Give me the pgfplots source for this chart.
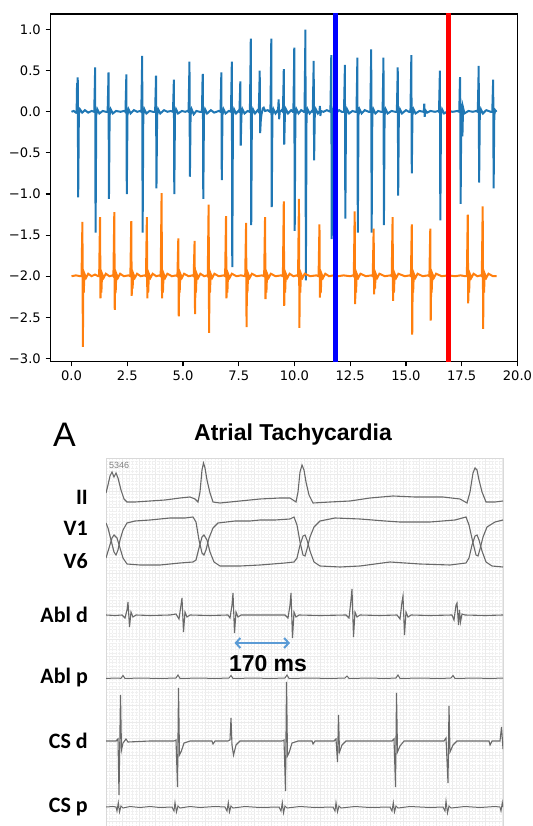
\documentclass[border=0pt]{standalone}
\usepackage{fontspec}
\usepackage{pgfplots}
\pgfplotsset{compat=1.18}
\usetikzlibrary{arrows.meta}
\setmainfont{Liberation Sans}
\newfontfamily\dejavu{DejaVu Sans}
\newfontfamily\carlito{Carlito}
\definecolor{tabblue}{HTML}{1F77B4}
\definecolor{taborange}{HTML}{FF7F0E}
\definecolor{ecg}{RGB}{105,105,105}
\definecolor{arrowblue}{RGB}{91,155,213}
\begin{document}
\begin{tikzpicture}
\path[use as bounding box] (0,0) rectangle (532pt,826pt);
% ---------------- top chart ----------------
\begin{axis}[at={(50.2pt,464.3pt)}, anchor=south west, scale only axis,
  width=467.5pt, height=347.7pt,
  xmin=-0.955, xmax=20.01, ymin=-3.04, ymax=1.19,
  xtick={0,2.5,5,7.5,10,12.5,15,17.5,20},
  xticklabels={0.0,2.5,5.0,7.5,10.0,12.5,15.0,17.5,20.0},
  ytick={-3,-2.5,-2,-1.5,-1,-0.5,0,0.5,1},
  yticklabels={−3.0,−2.5,−2.0,−1.5,−1.0,−0.5,0.0,0.5,1.0},
  tick align=outside, xtick pos=bottom, ytick pos=left,
  major tick length=4.6pt,
  every tick/.style={black, line width=1.05pt},
  axis line style={black, line width=1.05pt},
  tick label style={font=\dejavu\fontsize{13.1}{15}\selectfont, inner sep=0pt},
  xticklabel shift=4.6pt, yticklabel shift=4.6pt,
  clip=true]
\addplot[tabblue, line width=2pt] coordinates {
(0,0) (0.1,0.01) (0.2,-0.01)
(0.23,0) (0.25,0.35) (0.27,0.30) (0.28,0.42) (0.30,-1.04) (0.33,-0.03) (0.38,0.03) (0.48,-0.01) (0.6,0.02) (0.75,-0.01) (0.9,0.01)
(1.02,0) (1.05,0.38) (1.06,0.54) (1.08,-1.47) (1.11,-0.04) (1.16,0.03) (1.25,-0.02) (1.4,0.01) (1.55,0)
(1.62,0) (1.65,0.34) (1.66,0.48) (1.68,-1.06) (1.71,-0.04) (1.76,0.03) (1.85,-0.02) (2.0,0.01) (2.2,0) (2.35,0.01)
(2.42,0) (2.45,0.32) (2.46,0.455) (2.48,-1.0) (2.51,-0.04) (2.56,0.03) (2.65,-0.02) (2.8,0.02) (2.95,0) (3.08,0.01)
(3.13,0) (3.16,0.48) (3.17,0.68) (3.19,-1.47) (3.22,-0.04) (3.27,0.03) (3.36,-0.02) (3.5,0.01) (3.65,0)
(3.75,0) (3.78,0.31) (3.79,0.44) (3.81,-0.93) (3.84,-0.04) (3.89,0.03) (3.98,-0.02) (4.15,0.02) (4.3,0) (4.45,0.01)
(4.55,0) (4.58,0.27) (4.59,0.39) (4.61,-1.0) (4.64,-0.04) (4.69,0.03) (4.78,-0.02) (4.95,0.01) (5.1,0) (5.2,0.01)
(5.25,0) (5.28,0.43) (5.29,0.61) (5.31,-0.79) (5.34,-0.04) (5.39,0.03) (5.48,-0.03) (5.6,0.01) (5.75,0)
(5.85,0) (5.88,0.44) (5.89,0.46) (5.91,-1.06) (5.94,-0.04) (5.99,0.03) (6.08,-0.02) (6.25,0.02) (6.4,-0.01) (6.6,0.01)
(6.68,0) (6.71,0.34) (6.72,0.48) (6.74,-0.83) (6.77,-0.04) (6.82,0.03) (6.91,-0.02) (7.05,0.01)
(7.15,0) (7.18,0.43) (7.19,0.61) (7.21,-1.89) (7.24,-0.04) (7.29,0.03) (7.38,-0.02) (7.48,0.01)
(7.53,0) (7.56,0.26) (7.57,0.37) (7.59,-0.41) (7.62,-0.04) (7.67,0.03) (7.76,-0.02) (7.9,0.01) (7.98,0)
(8.0,0) (8.03,0.62) (8.04,0.89) (8.06,-1.38) (8.09,-0.04) (8.14,0.03) (8.23,-0.02) (8.35,0.02)
(8.40,0) (8.43,0.35) (8.44,0.50) (8.46,-0.26) (8.49,-0.1) (8.52,-0.03) (8.58,0.04) (8.62,0.05) (8.68,0.01) (8.8,0.02) (8.9,0)
(8.92,0) (8.95,0.62) (8.96,0.89) (8.98,-1.16) (9.01,-0.04) (9.06,0.03) (9.15,-0.02) (9.22,0.01)
(9.26,0) (9.28,0.1) (9.29,0.15) (9.31,-0.09) (9.34,0.0) (9.42,0.02)
(9.48,0) (9.51,0.36) (9.52,0.52) (9.54,-0.40) (9.57,-0.04) (9.62,0.03) (9.71,-0.02) (9.85,0.02) (9.93,0)
(9.95,0) (9.98,0.55) (9.99,0.78) (10.01,-1.45) (10.04,-0.04) (10.09,0.03) (10.18,-0.02) (10.3,0.02) (10.42,0)
(10.45,0) (10.48,0.7) (10.49,1.0) (10.51,-2.05) (10.54,-0.04) (10.59,0.03) (10.68,-0.02) (10.78,0.01)
(10.82,0) (10.85,0.43) (10.86,0.62) (10.88,-0.59) (10.91,-0.04) (10.96,0.03) (11.05,-0.02) (11.1,0)
(11.12,0.0) (11.14,0.07) (11.16,-0.05) (11.19,0.01) (11.3,0) (11.45,0.02)
(11.61,0) (11.64,0.48) (11.65,0.69) (11.67,-1.55) (11.70,-0.04) (11.75,0.03) (11.84,-0.02) (12.0,0.02) (12.12,0)
(12.22,0) (12.25,0.4) (12.26,0.57) (12.28,-1.30) (12.31,-0.04) (12.36,0.03) (12.45,-0.02) (12.6,0.01) (12.72,0)
(12.78,0) (12.81,0.46) (12.82,0.66) (12.84,-1.47) (12.87,-0.04) (12.92,0.03) (13.01,-0.02) (13.15,0.02) (13.33,0)
(13.40,0) (13.43,0.53) (13.44,0.76) (13.46,-1.47) (13.49,-0.04) (13.54,0.03) (13.63,-0.02) (13.75,0.01) (13.88,0)
(13.95,0) (13.98,0.46) (13.99,0.66) (14.01,-1.38) (14.04,-0.04) (14.09,0.03) (14.18,-0.02) (14.35,0.01) (14.52,0)
(14.59,0) (14.62,0.38) (14.63,0.54) (14.65,-1.02) (14.68,-0.04) (14.73,0.03) (14.82,-0.02) (15.0,0.02) (15.13,0)
(15.20,0) (15.23,0.48) (15.24,0.69) (15.26,-0.75) (15.29,-0.04) (15.34,0.03) (15.43,-0.02) (15.6,0.01) (15.78,0)
(15.80,0) (15.82,0.1) (15.84,-0.06) (15.87,0.02) (15.95,-0.01) (16.1,0.01) (16.3,0) (16.45,0.01)
(16.48,0) (16.51,0.35) (16.52,0.50) (16.54,-1.32) (16.57,-0.04) (16.62,0.03) (16.71,-0.02) (16.9,0.01) (17.1,0) (17.3,0.01)
(17.39,0) (17.42,0.4) (17.43,0.42) (17.45,-1.12) (17.48,-0.04) (17.51,0.1) (17.53,-0.3) (17.56,0.05) (17.62,-0.02) (17.8,0.01) (18.0,0) (18.15,0.01)
(18.22,0) (18.25,0.39) (18.26,0.56) (18.28,-0.86) (18.31,-0.04) (18.36,0.03) (18.45,-0.02) (18.6,0.02) (18.8,0)
(18.87,0) (18.90,0.3) (18.91,0.39) (18.93,-0.93) (18.96,-0.04) (19.0,0.02) (19.06,0)
};
\addplot[taborange, line width=2pt] coordinates {
(0,-2) (0.2,-1.99) (0.4,-2.0)
(0.45,-2) (0.49,-1.34) (0.51,-2.86) (0.53,-2.05) (0.55,-2.2) (0.58,-1.97) (0.65,-2.02) (0.75,-1.97) (0.9,-2.0) (1.05,-1.98) (1.2,-2.0)
(1.24,-2) (1.28,-1.28) (1.30,-2.27) (1.32,-2.05) (1.34,-2.2) (1.37,-1.97) (1.44,-2.02) (1.54,-1.97) (1.7,-2.0) (1.85,-1.99)
(1.88,-2) (1.92,-1.22) (1.94,-2.41) (1.96,-2.05) (1.98,-2.2) (2.01,-1.97) (2.08,-2.02) (2.18,-1.97) (2.35,-2.0) (2.55,-1.99)
(2.64,-2) (2.68,-1.33) (2.70,-2.24) (2.72,-2.05) (2.74,-2.15) (2.77,-1.97) (2.84,-2.02) (2.94,-1.97) (3.1,-2.0) (3.28,-1.99)
(3.34,-2) (3.38,-1.28) (3.40,-2.27) (3.42,-2.05) (3.44,-2.2) (3.47,-1.97) (3.54,-2.02) (3.64,-1.97) (3.8,-2.0) (3.95,-1.99)
(4.00,-2) (4.04,-0.99) (4.06,-2.27) (4.08,-2.05) (4.10,-2.2) (4.13,-1.97) (4.2,-2.02) (4.3,-1.97) (4.5,-2.0) (4.7,-1.99)
(4.75,-2) (4.79,-1.54) (4.81,-2.49) (4.83,-2.05) (4.85,-2.2) (4.88,-1.97) (4.95,-2.02) (5.05,-1.97) (5.25,-2.0) (5.42,-1.99)
(5.48,-2) (5.52,-1.57) (5.54,-2.46) (5.56,-2.05) (5.58,-2.2) (5.61,-1.97) (5.68,-2.02) (5.78,-1.97) (5.95,-2.0) (6.08,-1.99)
(6.11,-2) (6.15,-1.13) (6.17,-2.69) (6.19,-2.05) (6.21,-2.2) (6.24,-1.97) (6.31,-2.02) (6.41,-1.97) (6.6,-2.0) (6.83,-1.99)
(6.89,-2) (6.93,-1.27) (6.95,-2.27) (6.97,-2.05) (6.99,-2.2) (7.02,-1.97) (7.09,-2.02) (7.19,-1.97) (7.4,-2.0) (7.6,-1.99)
(7.79,-2) (7.83,-1.35) (7.85,-2.62) (7.87,-2.05) (7.89,-2.2) (7.92,-1.97) (7.99,-2.02) (8.09,-1.97) (8.3,-2.0) (8.55,-1.99)
(8.64,-2) (8.68,-1.28) (8.70,-2.28) (8.72,-2.05) (8.74,-2.2) (8.77,-1.97) (8.84,-2.02) (8.94,-1.97) (9.15,-2.0) (9.4,-1.99)
(9.48,-2) (9.52,-1.09) (9.54,-2.36) (9.56,-2.05) (9.58,-2.2) (9.61,-1.97) (9.68,-2.02) (9.78,-1.97) (9.95,-2.0) (10.1,-1.99)
(10.16,-2) (10.20,-1.06) (10.22,-2.63) (10.24,-2.05) (10.26,-2.2) (10.29,-1.97) (10.36,-2.02) (10.46,-1.97) (10.7,-2.0) (10.98,-1.99)
(11.08,-2) (11.12,-1.37) (11.14,-2.26) (11.16,-2.05) (11.18,-2.2) (11.21,-1.97) (11.28,-2.02) (11.38,-1.97) (11.55,-2.0) (11.75,-1.99) (11.95,-2.0) (12.2,-1.99) (12.5,-2.0) (12.62,-1.99)
(12.66,-2) (12.70,-1.21) (12.72,-2.34) (12.74,-2.05) (12.76,-2.2) (12.79,-1.97) (12.86,-2.02) (12.96,-1.97) (13.2,-2.0) (13.45,-1.99)
(13.51,-2) (13.55,-1.42) (13.57,-2.22) (13.59,-2.05) (13.61,-2.15) (13.64,-1.97) (13.71,-2.02) (13.81,-1.97) (14.05,-2.0) (14.3,-1.99)
(14.36,-2) (14.40,-1.28) (14.42,-2.30) (14.44,-2.05) (14.46,-2.2) (14.49,-1.97) (14.56,-2.02) (14.66,-1.97) (14.95,-2.0) (15.16,-1.99)
(15.22,-2) (15.26,-1.37) (15.28,-2.71) (15.30,-2.05) (15.32,-2.2) (15.35,-1.97) (15.42,-2.02) (15.52,-1.97) (15.75,-2.0) (15.98,-1.99)
(16.05,-2) (16.09,-1.42) (16.11,-2.54) (16.13,-2.05) (16.15,-2.2) (16.18,-1.97) (16.25,-2.02) (16.35,-1.97) (16.6,-2.0) (16.9,-1.99) (17.2,-2.0) (17.45,-1.99) (17.67,-2.0)
(17.73,-2) (17.77,-1.25) (17.79,-2.33) (17.81,-2.05) (17.83,-2.2) (17.86,-1.97) (17.93,-2.02) (18.03,-1.97) (18.2,-2.0) (18.35,-1.99)
(18.40,-2) (18.44,-1.15) (18.46,-2.64) (18.48,-2.05) (18.50,-2.2) (18.53,-1.97) (18.6,-2.02) (18.7,-1.97) (18.9,-2.0) (19.06,-2.0)
};
\addplot[blue, line width=4.6pt] coordinates {(11.83,-3.2) (11.83,1.3)};
\addplot[red, line width=4.6pt] coordinates {(16.90,-3.2) (16.90,1.3)};
\end{axis}
% ---------------- bottom ECG panel ----------------
\begin{axis}[at={(106pt,0pt)}, anchor=south west, scale only axis,
  width=397pt, height=368pt,
  xmin=106, xmax=503, ymin=458, ymax=826, y dir=reverse,
  xtick={106,122.5,...,503}, ytick={458,474.5,...,826},
  xticklabels={}, yticklabels={},
  minor tick num=4, major tick length=0pt, minor tick length=0pt,
  grid=both,
  major grid style={gray!16, line width=0.4pt},
  minor grid style={gray!12, line width=0.3pt, densely dotted},
  axis line style={gray!30, line width=0.6pt},
  clip=true]
% II
\addplot[ecg, line width=1.1pt] coordinates {
(106,493) (108,485) (110,476) (112,472) (114,477) (116,473) (118,478) (121,490) (124,499) (127,502) (135,502) (150,501) (165,500) (180,498) (190,497) (195,499) (198,502) (200,492) (202,470) (203.5,463) (205,468) (207,480) (210,493) (213,502) (220,503) (240,501) (260,499) (280,498) (290,498) (296,502) (298,492) (300,472) (302,465) (304,470) (306,482) (309,495) (313,503) (330,502) (350,501) (370,498) (393,496) (415,497) (443,497) (460,499) (467,503) (470,492) (473,473) (475,468) (477,470) (479,480) (482,492) (486,502) (495,502) (503,501)
};
% V1
\addplot[ecg, line width=1.1pt] coordinates {
(106,523) (108,528) (111,540) (114,552) (116,555) (118,550) (120,540) (123,530) (127,523) (135,521) (150,520) (170,518) (185,518) (193,517) (196,522) (199,540) (202,553) (204,555) (206,550) (209,538) (213,528) (218,523) (235,521) (250,521) (260,520) (275,520) (290,519) (294,517) (297,525) (300,542) (303,555) (305,556) (307,549) (310,537) (314,527) (320,521) (335,518) (360,519) (385,521) (400,522) (430,522) (455,520) (466,517) (469,525) (473,543) (476,555) (478,556) (480,549) (483,537) (487,527) (495,522) (503,520)
};
% V6
\addplot[ecg, line width=1.1pt] coordinates {
(106,558) (109,548) (112,538) (114,535) (117,538) (120,548) (123,558) (127,564) (140,565) (160,565) (180,563) (193,562) (196,560) (199,548) (202,537) (204,535) (207,540) (210,552) (214,562) (220,566) (240,566) (260,565) (285,563) (294,562) (297,558) (300,545) (303,536) (305,535) (307,540) (310,551) (314,562) (320,566) (340,567) (360,566) (390,562) (420,564) (450,565) (466,563) (469,558) (472,545) (475,536) (477,535) (479,540) (482,551) (486,562) (492,566) (503,567)
};
% Abl d
\addplot[ecg, line width=1.1pt] coordinates {
(106,615) (115,615.5) (122,615) (125,618) (127,610) (128,602) (129.5,627) (131,612) (133,617) (136,615) (150,615.5) (170,615) (176,614) (179,619) (181,605) (182,598) (183.5,632) (185,612) (187,617) (190,615) (210,615.5) (228,615) (230,618) (232,605) (233,593) (234.5,633) (236,612) (238,617) (241,615) (260,615) (285,615) (288,618) (290,605) (291,593) (292.5,638) (294,612) (296,617) (299,615) (320,615.5) (346,615) (349,618) (351,600) (352,589) (353.5,637) (355,612) (357,617) (360,615) (380,615.5) (397,615) (400,619) (402,602) (403,596) (404.5,635) (406,612) (408,617) (411,615) (430,615.5) (452,615) (454,620) (456,605) (457,603) (458.5,625) (459.5,610) (460.5,622) (462,614) (465,615) (485,615.5) (503,615)
};
% Abl p
\addplot[ecg, line width=1.0pt] coordinates {
(106,678.5) (115,678) (121,678.3) (123,675.5) (125,678.5) (140,678) (160,678.5) (176,678) (178,675) (180,678.5) (200,678) (215,678.5) (229,678) (231,675.5) (233,678.5) (255,678) (270,678.5) (285,678) (287,675) (289,678.5) (310,678) (330,678.5) (345,678) (347,676) (349,678.5) (370,678) (385,678.5) (396,678) (398,675) (400,678.5) (420,678) (440,678.5) (451,678) (453,675.5) (455,678.5) (475,678) (490,678.5) (503,678)
};
% CS d
\addplot[ecg, line width=1.1pt] coordinates {
(106,741) (116,741) (118,739) (119,795) (120.5,695) (121.5,750) (123,743) (126,739) (128,742) (150,741) (174,741) (176,740) (177.5,787) (178.5,688) (179.5,755) (181,752) (184,743) (190,741) (212,741) (213,744) (215,741) (228,741) (230,740) (231,718) (232,745) (233.5,755) (236,745) (240,741) (260,741) (282,741) (284,740) (285.5,791) (286.5,682) (287.5,756) (289,753) (292,743) (298,741) (312,741) (313,744) (315,741) (334,741) (336,739) (337.5,762) (338.5,715) (339.5,752) (342,745) (346,741) (370,741) (392,741) (394,739) (395.5,787) (396.5,693) (397.5,752) (400,746) (404,741) (420,741) (444,741) (446,738) (448,783) (449,706) (450,752) (453,745) (457,741) (480,741) (489,741) (490,745) (492,741) (500,741) (501.5,727) (503,749)
};
% CS p
\addplot[ecg, line width=1.0pt] coordinates {
(106,807) (113,806.5) (116,807) (117,811) (118.3,802.5) (119.5,812) (121,806) (123,808) (130,806.5) (140,807.5) (150,806.5) (160,807.5) (172,807) (174,811) (175,802.5) (176.5,812) (178,806) (180,808) (190,806.5) (200,807.5) (215,806.5) (225,807) (227,811) (228.3,802.5) (229.5,812) (231,806) (233,808) (245,806.5) (260,807.5) (279,807) (281,811) (282.3,802.5) (283.5,813) (285,806) (287,808) (300,806.5) (315,807.5) (333,807) (335,811) (336,802.5) (337.5,812) (339,806) (341,808) (355,806.5) (370,807.5) (390,807) (392,811) (393.3,802.5) (394.5,812) (396,806) (398,808) (410,806.5) (430,807.5) (443,807) (445,811) (446,801) (447.5,813) (449,806) (451,808) (465,806.5) (480,807.5) (495,806.5) (500,807) (501,811) (502.3,802.5) (503,807)
};
\draw[arrowblue, line width=2pt, {Straight Barb[length=4.5pt,width=10pt]}-{Straight Barb[length=4.5pt,width=10pt]}] (axis cs:234.5,643) -- (axis cs:290,643);
\end{axis}
% ---------------- texts ----------------
\node[anchor=base west, inner sep=0pt, font=\fontsize{34}{40}\selectfont] at (53pt,379pt) {A};
\node[anchor=base, inner sep=0pt, font=\fontsize{23}{27}\selectfont\bfseries] at (293pt,385pt) {Atrial Tachycardia};
\node[anchor=base west, inner sep=0pt, text=gray, font=\fontsize{9}{10}\selectfont] at (109pt,357pt) {5346};
\node[anchor=base, inner sep=0pt, font=\fontsize{23}{27}\selectfont\bfseries] at (268pt,154pt) {170 ms};
\begin{scope}[every node/.style={anchor=base east, inner sep=0pt, font=\carlito\fontsize{22}{26}\selectfont\bfseries}]
\node at (88pt,321pt) {II};
\node at (88pt,290pt) {V1};
\node at (88pt,257pt) {V6};
\node at (88pt,203pt) {Abl d};
\node at (88pt,142pt) {Abl p};
\node at (88pt,77pt) {CS d};
\node at (88pt,13pt) {CS p};
\end{scope}
\end{tikzpicture}
\end{document}
